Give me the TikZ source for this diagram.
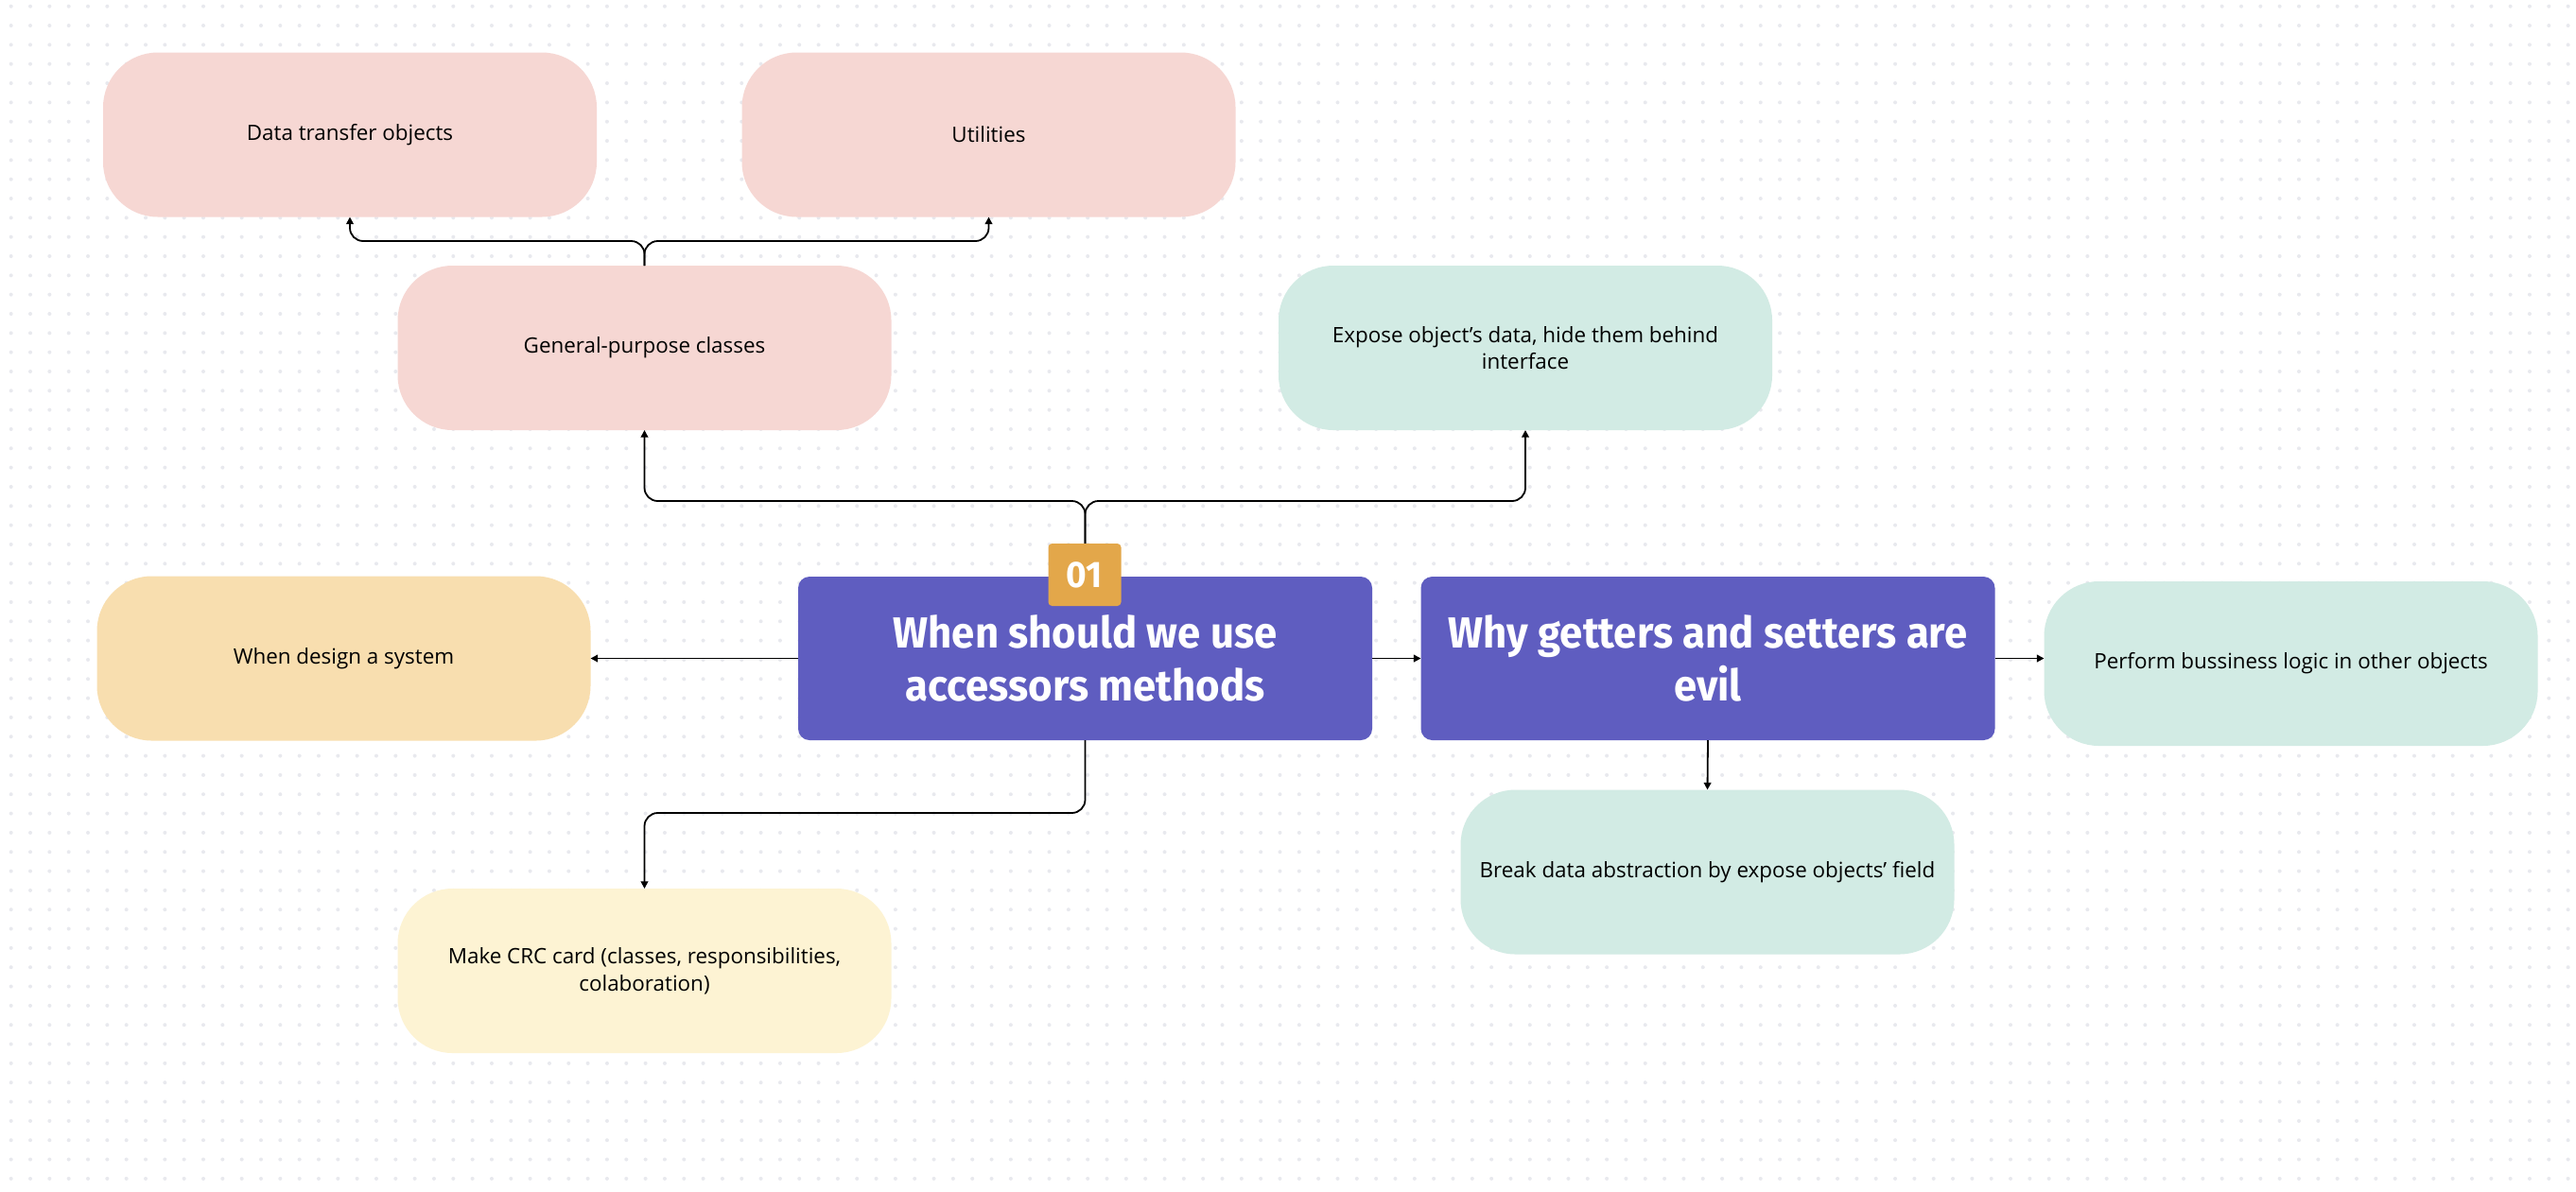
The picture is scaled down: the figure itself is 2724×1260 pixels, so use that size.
\documentclass[tikz,border=0pt]{standalone}
\usepackage{fontspec}
\setmainfont{Open Sans}
\newfontfamily\titlefont[FakeStretch=0.95]{Fira Sans}
\usetikzlibrary{arrows.meta}
\definecolor{pinkc}{HTML}{F6D7D3}
\definecolor{mintc}{HTML}{D2EBE4}
\definecolor{orangec}{HTML}{F8DEAF}
\definecolor{yellowc}{HTML}{FDF3D3}
\definecolor{purplec}{HTML}{5F5DC0}
\definecolor{badgec}{HTML}{E3A74A}
\definecolor{dotc}{HTML}{E8E9EE}
\tikzset{
  pastel/.style={rounded corners=29pt, minimum width=261pt, minimum height=87pt,
    inner sep=0pt, outer sep=0pt, align=center, text=black,
    font=\fontsize{11.2}{14.3}\selectfont},
  titlebox/.style={fill=purplec, rounded corners=6pt, minimum width=303.5pt,
    minimum height=86.5pt, inner sep=0pt, outer sep=0pt, text=white, align=center,
    font=\titlefont\bfseries\fontsize{23}{28}\selectfont},
  badge/.style={fill=badgec, rounded corners=2pt, minimum width=38.5pt,
    minimum height=33pt, inner sep=0pt, text=white,
    font=\titlefont\bfseries\fontsize{19.5}{19.5}\selectfont},
  conn/.style={draw=black, line width=0.9pt, rounded corners=7pt,
    -{Triangle[length=3.8pt,width=3.8pt]}},
}
\begin{document}
\begin{tikzpicture}[x=0.5pt,y=-0.5pt]
\useasboundingbox (0,0) rectangle (2724,1260);
\fill[white] (0,0) rectangle (2724,1260);
\foreach \j in {0,...,61} {
  \fill[dotc] \foreach \i in {0,...,133} { (11.7+\i*20.33, 6.7+\j*20.33) circle[radius=1pt] };
}

% pastel boxes
\node[pastel, fill=pinkc] (dto) at (370,142.5) {Data transfer objects};
\node[pastel, fill=pinkc] (util) at (1045.5,142.5) {Utilities};
\node[pastel, fill=pinkc] (gp) at (681.5,368) {General-purpose classes};
\node[pastel, fill=mintc] (exp) at (1613,368) {Expose object’s data, hide them behind\\interface};
\node[pastel, fill=orangec] (wds) at (363.5,696.5) {When design a system};
\node[pastel, fill=mintc] (perf) at (2422.5,702) {Perform bussiness logic in other objects};
\node[pastel, fill=mintc] (brk) at (1805.5,922.5) {Break data abstraction by expose objects’ field};
\node[pastel, fill=yellowc] (crc) at (681.5,1027) {Make CRC card (classes, responsibilities,\\colaboration)};

% title boxes
\node[titlebox] (main) at (1147.5,696.5) {When should we use\\accessors methods};
\node[titlebox] (why) at (1806,696.5) {Why getters and setters are\\evil};

% connectors
\draw[conn] (main.north) -- ++(0,-80) -| (gp.south);
\draw[conn] (main.north) -- ++(0,-80) -| (exp.south);
\draw[conn] (gp.north) -- ++(0,-26) -| (dto.south);
\draw[conn] (gp.north) -- ++(0,-26) -| (util.south);
\draw[conn] (main.west) -- (wds.east);
\draw[conn] (main.east) -- (why.west);
\draw[conn] (main.south) -- ++(0,77) -| (crc.north);
\draw[conn] (why.south) -- (brk.north);
\draw[conn] (why.east) -- (why.east -| perf.west);

% badge
\node[badge] (b01) at (1147,608) {01};
\end{tikzpicture}
\end{document}
